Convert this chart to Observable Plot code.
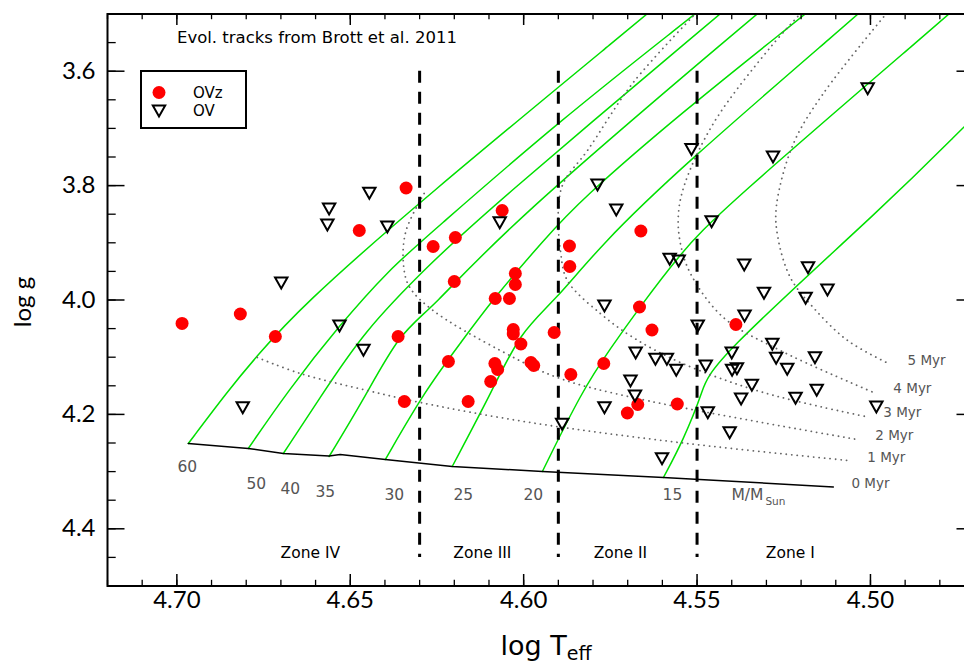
<!DOCTYPE html>
<html><head><meta charset="utf-8">
<script src="https://cdn.jsdelivr.net/npm/d3@7"></script>
<script src="https://cdn.jsdelivr.net/npm/@observablehq/plot@0.6"></script>
<style>
html,body{margin:0;padding:0;background:#fff;overflow:hidden;}
#wrap{width:964px;height:668px;overflow:hidden;position:relative;}
#wrap svg{max-width:none !important;}
</style></head><body><div id="wrap"></div>
<script>
// ---- data (log Teff, log g) ----
const ovzLogT = [4.6985,4.6817,4.6716,4.6339,4.6474,4.6362,4.6344,4.6261,4.6197,4.6200,4.6217,4.6160,4.6062,4.6082,4.6041,4.6024,4.6024,4.6030,4.6030,4.6008,4.6083,4.6075,4.6095,4.5979,4.5971,4.5912,4.5868,4.5867,4.5864,4.5769,4.5662,4.5666,4.5630,4.5671,4.5701,4.5557,4.5388];
const ovzLogg = [4.041,4.0245,4.0638,3.8042,3.8785,4.0638,4.1774,3.9065,3.8907,3.9677,4.1075,4.1774,3.8435,3.9974,3.9974,3.9537,3.9729,4.0516,4.0594,4.0769,4.1110,4.1215,4.1425,4.1093,4.1145,4.0568,3.9056,3.9414,4.1302,4.1110,3.8794,4.0122,4.0524,4.1827,4.1976,4.1818,4.0428];
const ovLogT = [4.6810,4.6699,4.6561,4.6566,4.6445,4.6393,4.6531,4.6462,4.6069,4.5787,4.5733,4.5767,4.5889,4.5516,4.5458,4.5579,4.5553,4.5677,4.5692,4.5679,4.5620,4.5587,4.5560,4.5601,4.5767,4.5498,4.5475,4.5469,4.5281,4.5008,4.5364,4.5180,4.5124,4.5307,4.5187,4.5363,4.5283,4.5400,4.5272,4.5160,4.5240,4.5399,4.5385,4.5342,4.5155,4.5373,4.5216,4.5406,4.4983];
const ovLogg = [4.1874,3.9694,3.8400,3.8680,3.8126,3.8715,4.0446,4.0871,3.8640,3.7981,3.8418,4.0096,4.2164,3.7360,3.8622,3.9280,3.9309,4.0918,4.1407,4.1670,4.1028,4.1028,4.1220,4.2766,4.1874,4.0446,4.1145,4.1962,3.7491,3.6297,3.9379,3.9427,3.9816,3.9874,3.9962,4.0271,4.0766,4.0918,4.1010,4.1000,4.1203,4.1220,4.1192,4.1483,4.1570,4.1722,4.1710,4.2311,4.1862];

// evolutionary tracks [logT, logg]
const track60 = [[4.6967,4.2509],[4.6852,4.1582],[4.6768,4.0970],[4.6644,4.0131],[4.6307,3.8313],[4.5649,3.5026],[4.5615,3.4851]];
const track50 = [[4.6794,4.2596],[4.6679,4.1582],[4.6532,4.0446],[4.6385,3.9449],[4.6269,3.8837],[4.5903,3.6897],[4.5511,3.5026],[4.5476,3.4851]];
const track40 = [[4.6693,4.2684],[4.6592,4.1757],[4.6463,4.0559],[4.6269,3.9362],[4.6105,3.8435],[4.5433,3.4991],[4.5401,3.4834]];
const track35 = [[4.6561,4.2736],[4.6463,4.1757],[4.6356,4.0559],[4.6269,4.0184],[4.6047,3.8698],[4.5326,3.4991],[4.5294,3.4834]];
const track30 = [[4.6399,4.2789],[4.6284,4.1582],[4.6183,4.0760],[4.6085,3.9956],[4.5938,3.8925],[4.5837,3.8260],[4.5548,3.6740],[4.5193,3.5026],[4.5162,3.4869]];
const track25 = [[4.6206,4.2911],[4.6090,4.1582],[4.6010,4.0559],[4.5909,4.0009],[4.5779,3.9047],[4.5548,3.7684],[4.5040,3.5026],[4.5012,3.4869]];
const track20 = [[4.5946,4.2998],[4.5831,4.1582],[4.5750,4.0848],[4.5666,4.0131],[4.5548,3.9187],[4.5439,3.8470],[4.4778,3.5026],[4.4749,3.4869]];
const track15 = [[4.5597,4.3103],[4.5540,4.2456],[4.5482,4.1582],[4.5465,4.1136],[4.4942,3.8260],[4.4735,3.7002],[4.4697,3.6774]];
const trackMasses = [60,50,40,35,30,25,20,15];
const trackList = [track60,track50,track40,track35,track30,track25,track20,track15];

// isochrones [logT, logg]
const iso0 = [[4.6967,4.2509],[4.6794,4.2596],[4.6693,4.2684],[4.6561,4.2727],[4.6529,4.2701],[4.6399,4.2789],[4.6206,4.2911],[4.5946,4.2998],[4.5597,4.3103],[4.5519,4.3129],[4.5107,4.3269]];
const iso1 = [[4.6768,4.1005],[4.6644,4.1285],[4.6451,4.1582],[4.6298,4.1792],[4.5981,4.2142],[4.5528,4.2509],[4.5064,4.2806]];
const iso2 = [[4.6287,3.8138],[4.6339,3.8785],[4.6347,3.9344],[4.6330,3.9764],[4.6261,4.0184],[4.6067,4.0883],[4.5903,4.1355],[4.5672,4.1722],[4.5038,4.2439]];
const iso3 = [[4.5490,3.4904],[4.5684,3.6198],[4.5816,3.7386],[4.5886,3.7963],[4.5900,3.8435],[4.5894,3.9135],[4.5874,3.9659],[4.5779,4.0236],[4.5684,4.0656],[4.5548,4.1093],[4.5309,4.1617],[4.5014,4.2037]];
const iso4 = [[4.5188,3.4904],[4.5289,3.5586],[4.5453,3.6914],[4.5537,3.7998],[4.5554,3.8523],[4.5548,3.9012],[4.5519,3.9537],[4.5424,4.0306],[4.5260,4.0883],[4.4991,4.1617]];
const iso5 = [[4.4942,3.4904],[4.5136,3.6390],[4.5222,3.7264],[4.5271,3.8348],[4.5268,3.8872],[4.5231,3.9607],[4.5165,4.0131],[4.5066,4.0708],[4.4948,4.1110]];
const isoAges = [1,2,3,4,5];
const isoList = [iso1,iso2,iso3,iso4,iso5];

// labels
const ageLabels = ["0 Myr","1 Myr","2 Myr","3 Myr","4 Myr","5 Myr"];
const ageLabelT = [4.5055,4.5009,4.4986,4.4963,4.4934,4.4893];
const ageLabelG = [4.3208,4.2753,4.2369,4.1967,4.1547,4.1058];
const massLabels = ["60","50","40","35","30","25","20","15"];
const massLabelT = [4.6970,4.6771,4.6673,4.6572,4.6373,4.6174,4.5972,4.5571];
const massLabelG = [4.2928,4.3226,4.3313,4.3365,4.3418,4.3418,4.3418,4.3418];
const zoneBounds = [4.63,4.59,4.55];
const zoneNames = ["Zone IV","Zone III","Zone II","Zone I"];
const zoneLabelT = [4.6615,4.6119,4.5721,4.5231];
const xMajor = [4.50,4.55,4.60,4.65,4.70];
const yMajor = [3.6,3.8,4.0,4.2,4.4];
const xMinor = d3.range(0,25).map(i => +(4.48 + i*0.01).toFixed(2));
const yMinor = d3.range(0,19).map(i => +(3.55 + i*0.05).toFixed(2));

// ---- layout ----
const W = 975, H = 668, ML = 107, MR = 1, MT = 13.5, MB = 82.5;
const PW = W - ML - MR, PH = H - MT - MB;
const FONT = "'DejaVu Sans', sans-serif";
const TICKFONT = "Lato, 'DejaVu Sans', sans-serif";
const GREEN = "#00e000", GREY = "#555555";

const trackRows = trackList.flatMap((pts, i) => pts.map(([t, g]) => ({m: trackMasses[i], t, g})));
const isoRows = isoList.flatMap((pts, i) => pts.map(([t, g]) => ({a: isoAges[i], t, g})));
const zamsRows = iso0.map(([t, g]) => ({t, g}));
const ovz = ovzLogT.map((t, i) => ({t, g: ovzLogg[i]}));
const ov = ovLogT.map((t, i) => ({t, g: ovLogg[i]}));

const TRI = "M-6.2,-5L6.2,-5L0,6Z";
const triDown = {draw(ctx) { ctx.moveTo(-6.2, -5); ctx.lineTo(6.2, -5); ctx.lineTo(0, 6); ctx.closePath(); }};

const chart = Plot.plot({
  width: W, height: H, marginLeft: ML, marginRight: MR, marginTop: MT, marginBottom: MB,
  x: {domain: [4.72, 4.47], axis: null},
  y: {domain: [4.5, 3.5], axis: null},
  style: {fontFamily: FONT, background: "white", overflow: "hidden", maxWidth: "none"},
  marks: [
    Plot.line(trackRows, {x: "t", y: "g", z: "m", stroke: GREEN, strokeWidth: 1.5, curve: "basis", clip: true}),
    Plot.line(isoRows, {x: "t", y: "g", z: "a", stroke: "#666", strokeWidth: 1.8, strokeDasharray: "0.1,5.4", strokeLinecap: "round", curve: "catmull-rom", clip: true}),
    Plot.line(zamsRows, {x: "t", y: "g", stroke: "black", strokeWidth: 1.5}),
    Plot.ruleX(zoneBounds, {x: d => d, y1: 3.6, y2: 4.45, stroke: "black", strokeWidth: 3, strokeDasharray: "12,9"}),
    Plot.text(zoneNames, {x: (d, i) => zoneLabelT[i], y: 4.4432, text: d => d, fontSize: 15.5, fill: "black"}),
    Plot.text(massLabels, {x: (d, i) => massLabelT[i], y: (d, i) => massLabelG[i], text: d => d, fontSize: 15.5, fill: GREY}),
    Plot.text(["M/M"], {x: 4.5401, y: 4.3418, text: d => d, textAnchor: "start", fontSize: 15.5, fill: GREY}),
    Plot.text(["Sun"], {x: 4.5401, y: 4.3418, text: d => d, textAnchor: "start", dx: 34, dy: 6, fontSize: 10.5, fill: GREY}),
    Plot.text(ageLabels, {x: (d, i) => ageLabelT[i], y: (d, i) => ageLabelG[i], text: d => d, textAnchor: "start", fontSize: 13.5, fill: GREY}),
    Plot.dot(ovz, {x: "t", y: "g", r: 6.5, fill: "#ff0000", stroke: null}),
    Plot.dot(ov, {x: "t", y: "g", symbol: triDown, fill: "none", stroke: "black", strokeWidth: 2}),
    // ticks (inward)
    Plot.tickX(xMinor, {x: d => d, insetTop: PH - 5.7, stroke: "black", strokeWidth: 1.3}),
    Plot.tickX(xMinor, {x: d => d, insetBottom: PH - 5.7, stroke: "black", strokeWidth: 1.3}),
    Plot.tickX(xMajor, {x: d => d, insetTop: PH - 11.5, stroke: "black", strokeWidth: 1.5}),
    Plot.tickX(xMajor, {x: d => d, insetBottom: PH - 11.5, stroke: "black", strokeWidth: 1.5}),
    Plot.tickY(yMinor, {y: d => d, insetRight: PW - 8.7, stroke: "black", strokeWidth: 1.3}),
    Plot.tickY(yMinor, {y: d => d, insetLeft: PW - 8.7, stroke: "black", strokeWidth: 1.3}),
    Plot.tickY(yMajor, {y: d => d, insetRight: PW - 17.5, stroke: "black", strokeWidth: 1.5}),
    Plot.tickY(yMajor, {y: d => d, insetLeft: PW - 17.5, stroke: "black", strokeWidth: 1.5}),
    Plot.text(xMajor, {x: d => d, text: d => d.toFixed(2), frameAnchor: "bottom", lineAnchor: "top", dy: 5, fontSize: 24, fontFamily: TICKFONT, fill: "black"}),
    Plot.text(yMajor, {y: d => d, text: d => d.toFixed(1), frameAnchor: "left", textAnchor: "end", dx: -12, fontSize: 24, fontFamily: TICKFONT, fill: "black"}),
    Plot.frame({stroke: "black", strokeWidth: 2})
  ]
});

const svg = d3.select(chart);
// axis titles
const xt = svg.append("text").attr("x", 546).attr("y", 655).attr("text-anchor", "middle")
  .style("font-family", FONT).style("font-size", "27px").attr("fill", "black");
xt.append("tspan").text("log T");
xt.append("tspan").attr("dy", 5).style("font-size", "19px").text("eff");
svg.append("text").attr("transform", "translate(31,302) rotate(-90)").attr("text-anchor", "middle")
  .style("font-family", TICKFONT).style("font-size", "24px").attr("fill", "black").text("log g");
// title annotation
svg.append("text").attr("x", 177).attr("y", 43).attr("text-anchor", "start").style("font-family", FONT).style("font-size", "16.5px")
  .attr("fill", "black").text("Evol. tracks from Brott et al. 2011");
// legend
const lg = svg.append("g");
lg.append("rect").attr("x", 141).attr("y", 71).attr("width", 105).attr("height", 57)
  .attr("fill", "white").attr("stroke", "black").attr("stroke-width", 2);
lg.append("circle").attr("cx", 159).attr("cy", 92.5).attr("r", 6.5).attr("fill", "#ff0000");
lg.append("path").attr("transform", "translate(159,110.5)").attr("d", TRI)
  .attr("fill", "none").attr("stroke", "black").attr("stroke-width", 2);
lg.append("text").attr("x", 193).attr("y", 92.5).attr("dy", "0.36em").attr("text-anchor", "start").style("font-family", FONT).style("font-size", "15px").text("OVz");
lg.append("text").attr("x", 193).attr("y", 110.5).attr("dy", "0.36em").attr("text-anchor", "start").style("font-family", FONT).style("font-size", "15px").text("OV");

document.getElementById("wrap").appendChild(chart);
</script>
</body></html>
